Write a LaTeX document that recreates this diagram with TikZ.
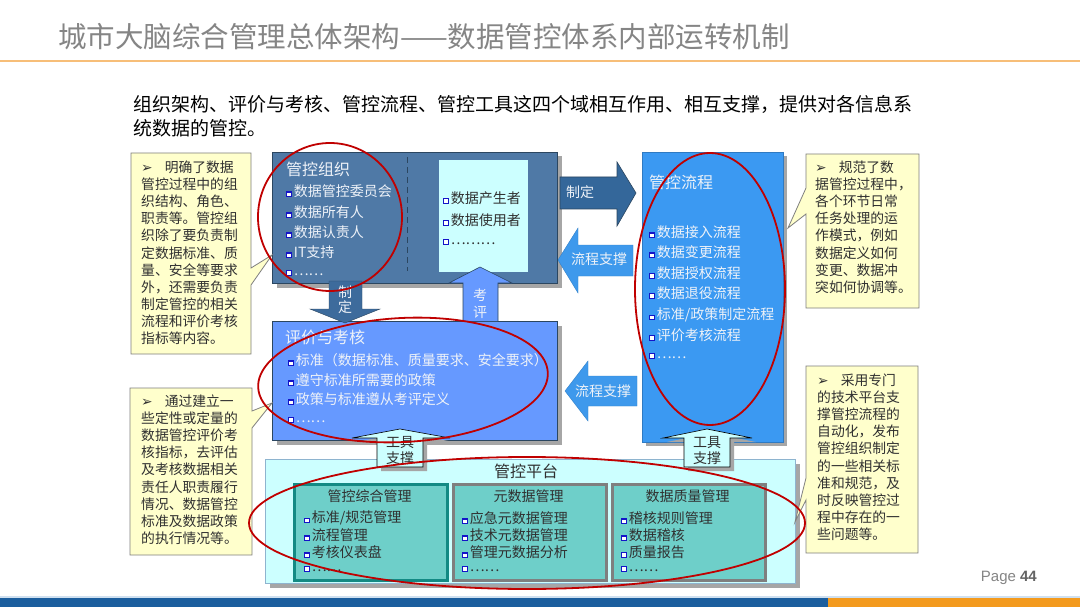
\documentclass[tikz,border=0pt]{standalone}
\usepackage{fontspec}
\setmainfont{Noto Sans CJK SC}
\newfontfamily\dv{DejaVu Sans}
\newfontfamily\lat{Liberation Sans}
\usetikzlibrary{shadows}
\definecolor{orgfill}{HTML}{4F79A6}
\definecolor{orgdraw}{HTML}{2B4660}
\definecolor{cyanfill}{HTML}{CCFFFF}
\definecolor{evalfill}{HTML}{6699FF}
\definecolor{procfill}{HTML}{3B99F2}
\definecolor{arrowdark}{HTML}{34679A}
\definecolor{arrowmid}{HTML}{3E99EC}
\definecolor{arrowdown}{HTML}{3D6B9C}
\definecolor{tealfill}{HTML}{6ECFC9}
\definecolor{tealdraw}{HTML}{138A84}
\definecolor{subgray}{HTML}{7F7F7F}
\definecolor{platdraw}{HTML}{8EB4CF}
\definecolor{callfill}{HTML}{FFFFCC}
\definecolor{callgray}{HTML}{7F7F7F}
\definecolor{ellred}{HTML}{C00000}
\definecolor{bulblue}{HTML}{1414C8}
\definecolor{shadowgray}{HTML}{A6A6A6}
\definecolor{titlegray}{HTML}{858585}
\definecolor{titleorange}{HTML}{F7BE78}
\definecolor{boxtext}{HTML}{EEF2F8}
\definecolor{darktext}{HTML}{303030}
\definecolor{barblue}{HTML}{1B5E9E}
\definecolor{barorange}{HTML}{F39A1E}
\definecolor{barline}{HTML}{CFE0F0}
\newcommand\bul{{\setlength\fboxsep{0pt}\setlength\fboxrule{1.2pt}\raisebox{0.5pt}{\fcolorbox{bulblue}{white}{\rule{0pt}{3.3pt}\hspace{3.3pt}}}}\hspace{2pt}}
\begin{document}
\begin{tikzpicture}[x=1pt,y=-1pt,
  panel/.style={anchor=north west, inner sep=0, line width=1pt},
  shad/.style={general shadow={fill=shadowgray, shadow xshift=4pt, shadow yshift=-4pt}},
  itemw/.style={anchor=west, inner sep=0, font=\fontsize{14}{14}\selectfont, text=boxtext},
  itemd/.style={anchor=west, inner sep=0, font=\fontsize{14}{14}\selectfont, text=darktext},
  headw/.style={anchor=west, inner sep=0, font=\fontsize{16}{16}\selectfont, text=boxtext},
  arrtext/.style={inner sep=0, font=\fontsize{14}{14}\selectfont, text=boxtext},
  arrtextd/.style={inner sep=0, font=\fontsize{14}{14}\selectfont, text=darktext},
  callbox/.style={fill=callfill, draw=callgray, line width=0.8pt},
  calltext/.style={anchor=north west, inner sep=0, align=left, font=\fontsize{13.8}{17.15}\selectfont, text=darktext},
  redring/.style={draw=ellred, line width=1.8pt}]
\useasboundingbox (0,0) rectangle (1080,607);
\fill[white] (0,0) rectangle (1080,607);

% title and header
\node[anchor=west, inner sep=0, font=\fontsize{28.5}{30}\selectfont, text=titlegray] (title) at (58,37) {城市大脑综合管理总体架构——数据管控体系内部运转机制};
\draw[titleorange, line width=2pt] (0,61) -- (1080,61);
\node[anchor=west, inner sep=0, font=\fontsize{19}{19}\selectfont] (sub1) at (133,104) {组织架构、评价与考核、管控流程、管控工具这四个域相互作用、相互支撑，提供对各信息系};
\node[anchor=west, inner sep=0, font=\fontsize{19}{19}\selectfont] (sub2) at (133,128) {统数据的管控。};

% main panels
\node[panel, shad, fill=orgfill, draw=orgdraw, minimum width=285, minimum height=131] (org) at (272,152) {};
\draw[orgdraw, line width=1pt, dash pattern=on 6pt off 4pt] (407,157) -- (407,271);
\node[panel, fill=cyanfill, minimum width=89, minimum height=111] (orgin) at (438,160) {};
\node[panel, shad, fill=procfill, draw=procfill!80!black, line width=0.6pt, minimum width=141, minimum height=290] (proc) at (642,152) {};
\node[panel, shad, fill=evalfill, draw=orgdraw, minimum width=285, minimum height=119] (eval) at (272,321) {};
\node[panel, shad, fill=cyanfill, draw=platdraw, minimum width=530, minimum height=124] (plat) at (265,459) {};
\node[panel, fill=tealfill, draw=tealdraw, line width=2.5pt, minimum width=153, minimum height=96] (s1) at (293,483) {};
\node[panel, fill=tealfill, draw=subgray, line width=2.5pt, minimum width=153, minimum height=96] (s2) at (452,483) {};
\node[panel, fill=tealfill, draw=subgray, line width=2.5pt, minimum width=153, minimum height=96] (s3) at (611,483) {};

% org texts
\node[headw] (orgt) at (286,169) {管控组织};
\node[itemw] (o1) at (286,191) {\bul 数据管控委员会};
\node[itemw] (o2) at (286,212) {\bul 数据所有人};
\node[itemw] (o3) at (286,232) {\bul 数据认责人};
\node[itemw] (o4) at (286,252) {\bul IT支持};
\node[itemw] (o5) at (286,273) {\bul ……};
\node[itemd] (i1) at (443,198) {\bul 数据产生者};
\node[itemd] (i2) at (443,220) {\bul 数据使用者};
\node[itemd] (i3) at (443,242) {\bul ………};

% proc texts
\node[headw] (proct) at (649,182) {管控流程};
\node[itemw] (p1) at (649,232) {\bul 数据接入流程};
\node[itemw] (p2) at (649,252) {\bul 数据变更流程};
\node[itemw] (p3) at (649,273) {\bul 数据授权流程};
\node[itemw] (p4) at (649,293) {\bul 数据退役流程};
\node[itemw] (p5) at (649,315) {\bul 标准/政策制定流程};
\node[itemw] (p6) at (649,335) {\bul 评价考核流程};
\node[itemw] (p7) at (649,356) {\bul ……};

% eval texts
\node[headw] (evalt) at (285,337) {评价与考核};
\node[itemw] (e1) at (288,360) {\bul 标准（数据标准、质量要求、安全要求）};
\node[itemw] (e2) at (288,380) {\bul 遵守标准所需要的政策};
\node[itemw] (e3) at (288,399) {\bul 政策与标准遵从考评定义};
\node[itemw] (e4) at (288,420) {\bul ……};

% platform texts
\node[inner sep=0, font=\fontsize{16}{16}\selectfont, text=darktext] (platt) at (526,471) {管控平台};
\node[inner sep=0, font=\fontsize{14}{14}\selectfont, text=darktext] (s1t) at (369.5,496) {管控综合管理};
\node[inner sep=0, font=\fontsize{14}{14}\selectfont, text=darktext] (s2t) at (528.5,496) {元数据管理};
\node[inner sep=0, font=\fontsize{14}{14}\selectfont, text=darktext] (s3t) at (687.5,496) {数据质量管理};
\node[itemd] (a1) at (304,518) {\bul 标准/规范管理};
\node[itemd] (a2) at (304,535) {\bul 流程管理};
\node[itemd] (a3) at (304,552) {\bul 考核仪表盘};
\node[itemd] (a4) at (304,569) {\bul ……};
\node[itemd] (b1) at (462,518) {\bul 应急元数据管理};
\node[itemd] (b2) at (462,535) {\bul 技术元数据管理};
\node[itemd] (b3) at (462,552) {\bul 管理元数据分析};
\node[itemd] (b4) at (462,569) {\bul ……};
\node[itemd] (c1) at (621,518) {\bul 稽核规则管理};
\node[itemd] (c2) at (621,535) {\bul 数据稽核};
\node[itemd] (c3) at (621,552) {\bul 质量报告};
\node[itemd] (c4) at (621,569) {\bul ……};

% block arrows
\filldraw[fill=arrowdark, draw=orgdraw, line width=0.6pt] (560,177) -- (617,177) -- (617,162) -- (636,193) -- (617,226) -- (617,209) -- (560,209) -- cycle;
\node[arrtext] (zd1) at (580,192) {制定};
\filldraw[fill=arrowmid, draw=arrowmid!85!black, line width=0.4pt] (558,260) -- (578,228) -- (578,245) -- (633,245) -- (633,276) -- (578,276) -- (578,293) -- cycle;
\node[arrtext] (lc1) at (599,259) {流程支撑};
\filldraw[fill=arrowmid, draw=arrowmid!85!black, line width=0.4pt] (565,391) -- (588,361) -- (588,376) -- (637,376) -- (637,406) -- (588,406) -- (588,421) -- cycle;
\node[arrtext] (lc2) at (603,391) {流程支撑};
\filldraw[fill=arrowdown, draw=orgdraw, line width=0.4pt] (329,281) -- (362,281) -- (362,309) -- (380,309) -- (345,323) -- (310,309) -- (329,309) -- cycle;
\node[arrtext] (zd2a) at (345,292) {制};
\node[arrtext] (zd2b) at (345,307) {定};
\filldraw[fill=evalfill, draw=orgdraw, line width=0.6pt] (463,321) -- (463,283) -- (449,283) -- (480,267) -- (512,283) -- (498,283) -- (498,321);
\node[arrtext] (kp1) at (480,295) {考};
\node[arrtext] (kp2) at (480,312) {评};
\filldraw[shad, fill=cyanfill, draw=black, line width=0.6pt] (377,467) -- (377,438) -- (352,438) -- (400,429) -- (450,438) -- (423,438) -- (423,467) -- cycle;
\node[arrtextd] (gj1a) at (400,443) {工具};
\node[arrtextd] (gj1b) at (400,458) {支撑};
\filldraw[shad, fill=cyanfill, draw=black, line width=0.6pt] (684,467) -- (684,438) -- (663,438) -- (707,429) -- (752,438) -- (730,438) -- (730,467) -- cycle;
\node[arrtextd] (gj2a) at (707,443) {工具};
\node[arrtextd] (gj2b) at (707,458) {支撑};

% callouts
\draw[callbox] (131,153) -- (251,153) -- (251,268) -- (272,255) -- (251,285) -- (251,354) -- (131,354) -- cycle;
\node[calltext] (t1) at (141,160.5) {{\dv ➢}\hspace{12pt}明确了数据\\管控过程中的组\\织结构、角色、\\职责等。管控组\\织除了要负责制\\定数据标准、质\\量、安全等要求\\外，还需要负责\\制定管控的相关\\流程和评价考核\\指标等内容。};
\draw[callbox] (130,388) -- (252,388) -- (252,411) -- (272,403) -- (252,428) -- (252,555) -- (130,555) -- cycle;
\node[calltext] (t2) at (141,394.5) {{\dv ➢}\hspace{12pt}通过建立一\\些定性或定量的\\数据管控评价考\\核指标，去评估\\及考核数据相关\\责任人职责履行\\情况、数据管控\\标准及数据政策\\的执行情况等。};
\draw[callbox] (806,154) -- (919,154) -- (919,308) -- (806,308) -- (806,214) -- (788,228) -- (806,188) -- cycle;
\node[calltext] (t3) at (815,160.5) {{\dv ➢}\hspace{12pt}规范了数\\据管控过程中，\\各个环节日常\\任务处理的运\\作模式，例如\\数据定义如何\\变更、数据冲\\突如何协调等。};
\draw[callbox] (806,366) -- (918,366) -- (918,553) -- (806,553) -- (806,500) -- (795,522) -- (806,478) -- cycle;
\node[calltext] (t4) at (817,373.5) {{\dv ➢}\hspace{12pt}采用专门\\的技术平台支\\撑管控流程的\\自动化，发布\\管控组织制定\\的一些相关标\\准和规范，及\\时反映管控过\\程中存在的一\\些问题等。};

% red rings
\draw[redring] (330,217) ellipse [x radius=72, y radius=74];
\draw[redring, rotate around={3:(403,380)}] (403,380) ellipse [x radius=145, y radius=62];
\draw[redring] (710,289) ellipse [x radius=75, y radius=136];
\draw[redring] (527,523) ellipse [x radius=278, y radius=66];

% footer
\node[anchor=east, inner sep=0, font=\lat\fontsize{15}{15}\selectfont, text=titlegray] (page) at (1037,578) {Page \textcolor{darktext!75}{\textbf{44}}};
\fill[barline] (0,596) rectangle (1080,598);
\fill[barblue] (0,598) rectangle (828,607);
\fill[barorange] (828,598) rectangle (1080,607);
\end{tikzpicture}
\end{document}
